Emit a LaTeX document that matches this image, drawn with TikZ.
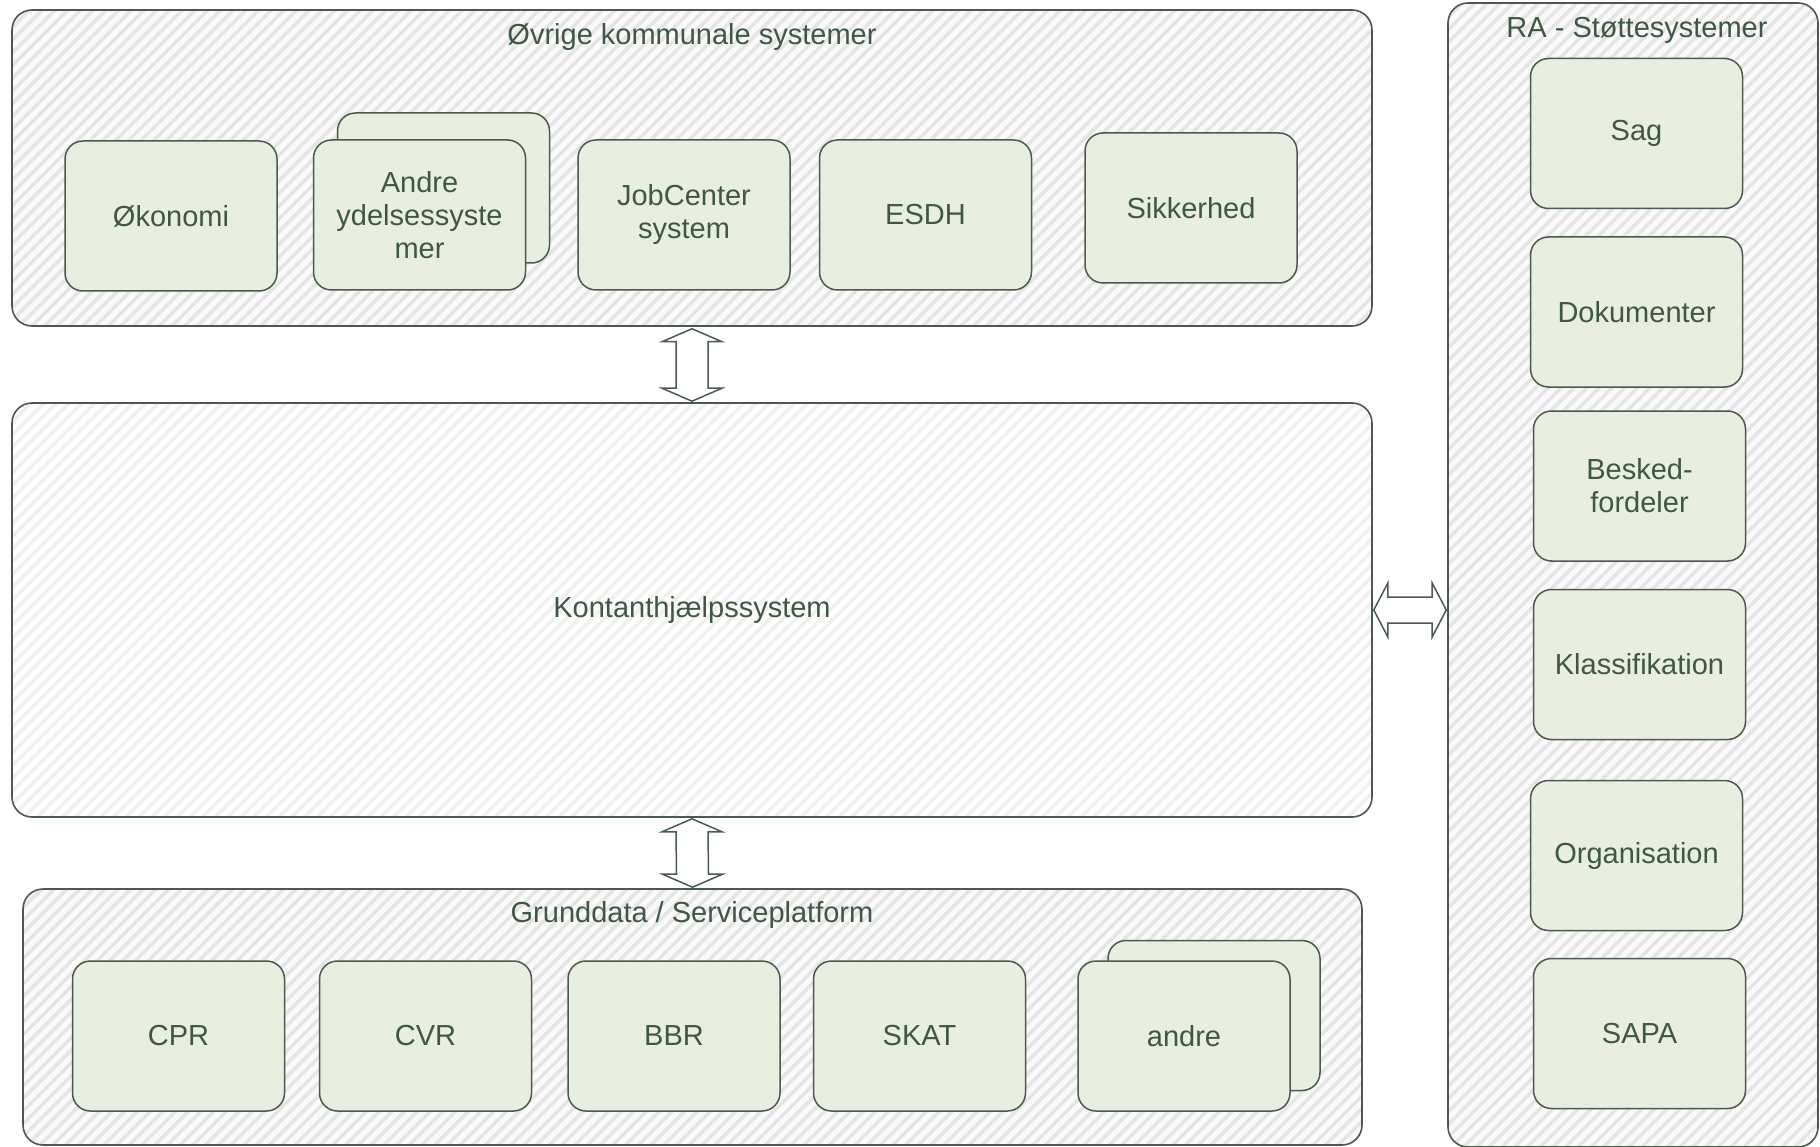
\documentclass[tikz,border=0pt]{standalone}
\usepackage{fontspec}
\setmainfont{Liberation Sans}
\usetikzlibrary{patterns.meta,calc}
\definecolor{boxfill}{RGB}{232,239,224}
\definecolor{edge}{RGB}{74,90,76}
\definecolor{ink}{RGB}{62,88,68}
\definecolor{hatch}{RGB}{229,229,229}
\definecolor{hatchlight}{RGB}{240,240,240}
\begin{document}
\begin{tikzpicture}[x=1pt,y=-1pt,
  every node/.style={font=\fontsize{29}{33}\selectfont, text=ink},
  group/.style={rectangle, draw=edge, line width=1.6pt, rounded corners=20pt,
    inner sep=0pt, preaction={fill=black!2},
    pattern={Lines[angle=45,distance=9pt,line width=3.5pt]}, pattern color=hatch},
  centre/.style={group, pattern color=hatchlight, preaction={fill=white}},
  sys/.style={rectangle, draw=edge, line width=1.5pt, rounded corners=18pt,
    fill=boxfill, minimum width=212pt, minimum height=150pt,
    align=center, inner sep=2pt},
  twoway/.style={draw=edge, line width=1.5pt, fill=white, line join=miter},
  title/.style={inner sep=0pt}]

\useasboundingbox (0,0) rectangle (1820,1147);

% containers
\node[group, minimum width=1360pt, minimum height=316pt] (top) at (692,168) {};
\node[centre, minimum width=1360pt, minimum height=414pt] (mid) at (692,610) {Kontanthjælpssystem};
\node[group, minimum width=1339pt, minimum height=256pt] (bot) at (692.5,1017) {};
\node[group, minimum width=370pt, minimum height=1144pt] (ra) at (1633,575) {};

% container titles
\node[title] (topT) at (692,37) {Øvrige kommunale systemer};
\node[title] (botT) at (692,915) {Grunddata / Serviceplatform};
\node[title] (raT) at (1637,30) {RA - Støttesystemer};

% other municipal systems
\node[sys] (oek) at (171,216) {Økonomi};
\node[sys] (andreBack) at (443.5,188) {};
\node[sys] (andre) at (419.5,215) {Andre\\ydelsessyste\\mer};
\node[sys] (job) at (684,215) {JobCenter\\system};
\node[sys] (esdh) at (925.5,215) {ESDH};
\node[sys] (sikk) at (1191,208) {Sikkerhed};

% base data / service platform
\node[sys] (cpr) at (178.5,1036) {CPR};
\node[sys] (cvr) at (425.5,1036) {CVR};
\node[sys] (bbr) at (674,1036) {BBR};
\node[sys] (skat) at (919.5,1036) {SKAT};
\node[sys] (andreBBack) at (1214,1015.5) {};
\node[sys] (andreB) at (1184,1036) {andre};

% support systems
\node[sys] (sag) at (1636.5,133.5) {Sag};
\node[sys] (dok) at (1636.5,312) {Dokumenter};
\node[sys] (besk) at (1639.5,486) {Besked-\\fordeler};
\node[sys] (klas) at (1639.5,664.5) {Klassifikation};
\node[sys] (org) at (1636.5,855.5) {Organisation};
\node[sys] (sapa) at (1639.5,1033.5) {SAPA};

% two-way arrows
\draw[twoway] ($(top.south)+(0,1)$) -- ++(-30,13) -- ++(14,0)
  -- ($(mid.north)+(-16,-14)$) -- ++(-14,0) -- ($(mid.north)+(0,-1)$)
  -- ++(30,-13) -- ++(-14,0) -- ($(top.south)+(16,14)$) -- ++(14,0) -- cycle;

\draw[twoway] ($(mid.south)+(0,1)$) -- ++(-30,13) -- ++(14,0)
  -- ($(bot.north)+(-16,-14)$) -- ++(-14,0) -- ($(bot.north)+(0,-1)$)
  -- ++(30,-13) -- ++(-14,0) -- ($(mid.south)+(16,14)$) -- ++(14,0) -- cycle;

\draw[twoway] ($(mid.east)+(1,0)$) -- ++(14,-27) -- ++(0,14)
  -- ($(ra.west |- mid.east)+(-15,-13)$) -- ++(0,-14) -- ($(ra.west |- mid.east)+(-1,0)$)
  -- ++(-14,27) -- ++(0,-14) -- ($(mid.east)+(15,13)$) -- ++(0,14) -- cycle;

\end{tikzpicture}
\end{document}
